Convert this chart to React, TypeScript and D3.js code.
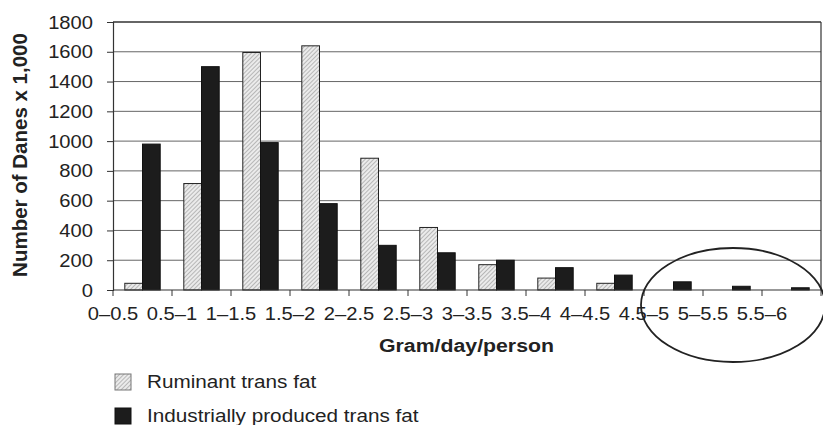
import React, { useEffect, useRef } from "react";
import * as d3 from "d3";

const categories = ["0–0.5", "0.5–1", "1–1.5", "1.5–2", "2–2.5", "2.5–3", "3–3.5", "3.5–4", "4–4.5", "4.5–5", "5–5.5", "5.5–6"];
const ruminant = [45, 715, 1595, 1640, 885, 420, 170, 80, 45, 0, 0, 0];
const industrial = [980, 1500, 990, 580, 300, 250, 200, 150, 100, 55, 25, 15];
const yTicks = [0, 200, 400, 600, 800, 1000, 1200, 1400, 1600, 1800];
const seriesNames = ["Ruminant trans fat", "Industrially produced trans fat"];

const FONT = "Liberation Sans, Arial, sans-serif";
const STRETCH = 1.12; // source figure is a bit wider than tall

const App = () => {
  const svgRef = useRef<SVGSVGElement>(null);

  useEffect(() => {
    if (!svgRef.current) return;
    const width = 823;
    const height = 425;
    const margin = { top: 22, right: 2, bottom: 135, left: 113 };
    const innerW = width - margin.left - margin.right;
    const innerH = height - margin.top - margin.bottom;

    const svg = d3.select(svgRef.current);
    svg.selectAll("*").remove();
    svg.attr("width", width).attr("height", height);

    // hatch pattern for ruminant bars
    const defs = svg.append("defs");
    const pat = defs
      .append("pattern")
      .attr("id", "hatch")
      .attr("patternUnits", "userSpaceOnUse")
      .attr("width", 3)
      .attr("height", 3)
      .attr("patternTransform", "rotate(45)");
    pat.append("rect").attr("width", 3).attr("height", 3).attr("fill", "#ebebeb");
    pat.append("line").attr("x1", 0).attr("y1", 0).attr("x2", 0).attr("y2", 3)
      .attr("stroke", "#8c8c8c").attr("stroke-width", 1.1);

    const g = svg.append("g").attr("transform", `translate(${margin.left},${margin.top})`);

    const x = d3.scaleBand().domain(categories).range([0, innerW]).paddingInner(0).paddingOuter(0);
    const inner = d3.scaleBand().domain(["r", "i"]).range([x.bandwidth() * 0.2, x.bandwidth() * 0.8]);
    const y = d3.scaleLinear().domain([0, 1800]).range([innerH, 0]);

    // helper for stretched text
    const label = (
      parent: d3.Selection<SVGGElement, unknown, null, undefined>,
      tx: number,
      ty: number,
      txt: string,
      size: number,
      anchor = "start",
      bold = false
    ) =>
      parent
        .append("text")
        .attr("transform", `translate(${tx},${ty}) scale(${STRETCH},1)`)
        .attr("text-anchor", anchor)
        .style("font-family", FONT)
        .style("font-size", `${size}px`)
        .style("font-weight", bold ? "bold" : "normal")
        .attr("fill", "#222")
        .text(txt);

    // gridlines
    g.append("g")
      .selectAll("line")
      .data(yTicks.slice(1))
      .join("line")
      .attr("x1", 0)
      .attr("x2", innerW)
      .attr("y1", (d) => y(d))
      .attr("y2", (d) => y(d))
      .attr("stroke", (d) => (d === 1800 ? "#333" : "#666"))
      .attr("stroke-width", (d) => (d === 1800 ? 1.5 : 1));

    // right border
    g.append("line").attr("x1", innerW).attr("x2", innerW).attr("y1", 0).attr("y2", innerH)
      .attr("stroke", "#333").attr("stroke-width", 1.2);

    // bars
    const groups = g
      .selectAll("g.grp")
      .data(categories)
      .join("g")
      .attr("class", "grp")
      .attr("transform", (d) => `translate(${x(d)},0)`);

    groups
      .filter((_, i) => ruminant[i] > 0)
      .append("rect")
      .attr("x", inner("r")!)
      .attr("width", inner.bandwidth())
      .attr("y", (d) => y(ruminant[categories.indexOf(d)]))
      .attr("height", (d) => innerH - y(ruminant[categories.indexOf(d)]))
      .attr("fill", "url(#hatch)")
      .attr("stroke", "#222")
      .attr("stroke-width", 1);

    groups
      .append("rect")
      .attr("x", inner("i")!)
      .attr("width", inner.bandwidth())
      .attr("y", (_, i) => y(industrial[i]))
      .attr("height", (_, i) => innerH - y(industrial[i]))
      .attr("fill", "#1c1c1c")
      .attr("stroke", "#111")
      .attr("stroke-width", 1);

    // y axis (lines from d3, labels drawn stretched)
    const yAxis = g
      .append("g")
      .call(d3.axisLeft(y).tickValues(yTicks).tickSize(6).tickFormat(() => ""));
    yAxis.select(".domain").attr("stroke", "#333").attr("stroke-width", 1.2);
    yAxis.selectAll("line").attr("stroke", "#333");
    yTicks.forEach((t) => label(g, -20, y(t) + 6.5, String(t), 18, "end"));

    // x axis: labels sit at left edge of each category
    const xAxisG = g.append("g").attr("transform", `translate(0,${innerH})`);
    xAxisG.append("line").attr("x1", 0).attr("x2", innerW).attr("stroke", "#333").attr("stroke-width", 1.2);
    const edges = categories.map((c) => x(c)!).concat([innerW]);
    xAxisG
      .selectAll("line.tick")
      .data(edges)
      .join("line")
      .attr("class", "tick")
      .attr("x1", (d) => d)
      .attr("x2", (d) => d)
      .attr("y1", 0)
      .attr("y2", 6)
      .attr("stroke", "#333");
    categories.forEach((c) => label(xAxisG, x(c)!, 30, c, 18, "middle"));

    // axis titles
    svg
      .append("text")
      .attr("transform", `translate(27,${155}) rotate(-90)`)
      .attr("text-anchor", "middle")
      .style("font-family", FONT)
      .style("font-size", "20.5px")
      .style("font-weight", "bold")
      .attr("fill", "#222")
      .text("Number of Danes x 1,000");

    label(svg as any, margin.left + innerW / 2 - 0.5, 352, "Gram/day/person", 19, "middle", true);

    // legend
    const legend = svg.append("g").attr("transform", "translate(115,374)");
    seriesNames.forEach((name, i) => {
      const row = legend.append("g").attr("transform", `translate(0,${i * 34})`);
      row.append("rect")
        .attr("width", 16)
        .attr("height", 16)
        .attr("fill", i === 0 ? "url(#hatch)" : "#1c1c1c")
        .attr("stroke", i === 0 ? "#777" : "#111");
      label(row, 32, 13.5, name, 18.5);
    });

    // highlight ellipse
    svg
      .append("ellipse")
      .attr("cx", 733)
      .attr("cy", 305)
      .attr("rx", 92)
      .attr("ry", 57)
      .attr("fill", "none")
      .attr("stroke", "#222")
      .attr("stroke-width", 1.8);
  }, []);

  return (
    <div style={{ position: "fixed", left: 0, top: 0, background: "#fff" }}>
      <svg ref={svgRef}></svg>
    </div>
  );
};

export default App;
